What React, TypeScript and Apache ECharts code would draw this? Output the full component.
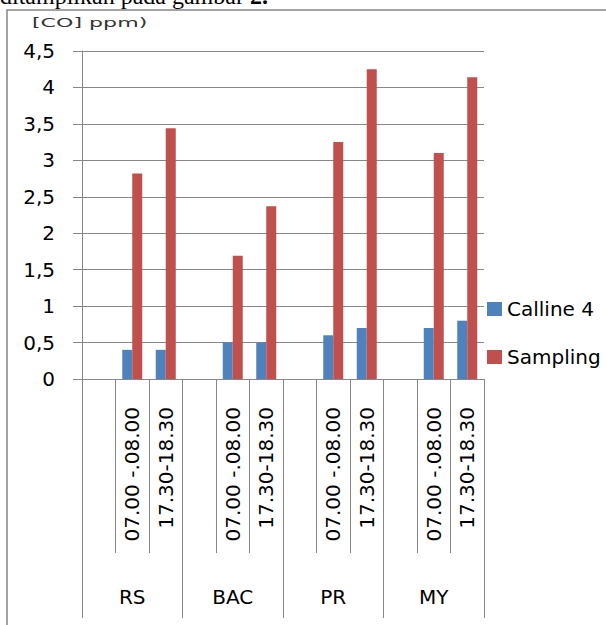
import React, { useEffect, useRef } from "react";
import * as echarts from "echarts";

const groups = ["RS", "BAC", "PR", "MY"];
const timeSlots = ["", "07.00 -.08.00", "17.30-18.30"];
const calline4 = [0.4, 0.4, 0.5, 0.5, 0.6, 0.7, 0.7, 0.8];
const sampling = [2.82, 3.44, 1.69, 2.37, 3.25, 4.25, 3.1, 4.14];
const seriesNames = ["Calline 4", "Sampling"];
const yTicks = { min: 0, max: 4.5, interval: 0.5 };

const FONT = "DejaVu Sans";
const GREY = "#878787";

function expand(values: number[]): (number | null)[] {
  const out: (number | null)[] = [];
  groups.forEach((_, gi) => {
    out.push(null);
    out.push(values[gi * 2]);
    out.push(values[gi * 2 + 1]);
  });
  return out;
}

export default function App() {
  const ref = useRef<HTMLDivElement>(null);
  useEffect(() => {
    if (!ref.current) return;
    const chart = echarts.init(ref.current, undefined, { renderer: "svg" });
    const slotCats: string[] = [];
    groups.forEach(() => timeSlots.forEach((t) => slotCats.push(t)));
    chart.setOption({
      animation: false,
      backgroundColor: "#ffffff",
      grid: { left: 82, right: 122, top: 51, bottom: 246, containLabel: false },
      legend: {
        orient: "vertical",
        left: 482,
        top: 292,
        itemWidth: 15,
        itemHeight: 14,
        itemGap: 24,
        icon: "rect",
        data: seriesNames,
        textStyle: { fontFamily: FONT, fontSize: 20, color: "#000", lineHeight: 24 },
      },
      xAxis: [
        {
          type: "category",
          position: "bottom",
          data: slotCats,
          axisLine: { show: true, lineStyle: { color: GREY, width: 1 } },
          axisTick: {
            show: true,
            interval: 0,
            length: 174,
            alignWithLabel: false,
            lineStyle: { color: GREY, width: 1 },
          },
          axisLabel: {
            interval: 0,
            rotate: 90,
            margin: 28,
            fontFamily: FONT,
            fontSize: 20,
            color: "#000",
          },
          splitLine: { show: false },
        },
        {
          type: "category",
          position: "bottom",
          offset: 0,
          data: groups,
          axisLine: { show: false },
          axisTick: {
            show: true,
            interval: 0,
            length: 239,
            alignWithLabel: false,
            lineStyle: { color: GREY, width: 1 },
          },
          axisLabel: {
            interval: 0,
            margin: 208,
            fontFamily: FONT,
            fontSize: 20,
            color: "#000",
          },
          splitLine: { show: false },
        },
      ],
      yAxis: {
        type: "value",
        min: yTicks.min,
        max: yTicks.max,
        interval: yTicks.interval,
        axisLine: { show: true, lineStyle: { color: GREY, width: 1 } },
        axisTick: { show: true, length: 9, lineStyle: { color: GREY, width: 1 } },
        axisLabel: {
          margin: 27,
          fontFamily: FONT,
          fontSize: 20,
          color: "#000",
          formatter: (v: number) => String(v).replace(".", ","),
        },
        splitLine: { show: true, lineStyle: { color: GREY, width: 1 } },
      },
      series: [
        {
          name: seriesNames[0],
          type: "bar",
          xAxisIndex: 0,
          data: expand(calline4),
          barWidth: 10,
          barGap: "0%",
          itemStyle: { color: "#4F81BD" },
        },
        {
          name: seriesNames[1],
          type: "bar",
          xAxisIndex: 0,
          data: expand(sampling),
          barWidth: 10,
          barGap: "0%",
          itemStyle: { color: "#C0504D" },
        },
      ],
      graphic: [
        {
          type: "rect",
          shape: { x: 7, y: 10, width: 700, height: 700 },
          style: { fill: "none", stroke: GREY, lineWidth: 1.5 },
          silent: true,
        },
        {
          type: "text",
          x: 0,
          y: -4,
          style: {
            text: "ditampilkan pada gambar ",
            fontFamily: "Liberation Serif",
            fontSize: 24,
            fill: "#000",
            verticalAlign: "middle",
          },
        },
        {
          type: "text",
          x: 250,
          y: -4,
          style: {
            text: "2.",
            fontFamily: "Liberation Serif",
            fontSize: 24,
            fontWeight: "bold",
            fill: "#000",
            verticalAlign: "middle",
          },
        },
        {
          type: "text",
          x: 32,
          y: 22,
          scaleX: 1.7,
          style: {
            text: "[CO] ppm)",
            fontFamily: FONT,
            fontSize: 13,
            fill: "#333",
            verticalAlign: "middle",
          },
        },
      ],
    });
    return () => chart.dispose();
  }, []);
  return (
    <div
      ref={ref}
      style={{ position: "absolute", left: 0, top: 0, width: 606, height: 625 }}
    />
  );
}
